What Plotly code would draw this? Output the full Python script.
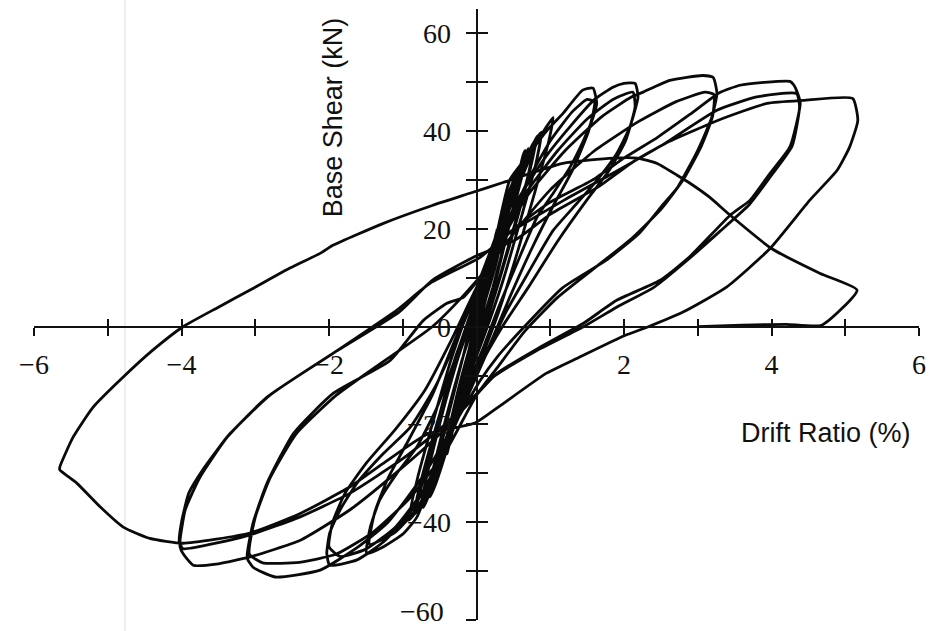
import plotly.graph_objects as go

# Cyclic lateral load test: drift ratio (%) vs base shear (kN), traced in load order.

# initial small-amplitude cycles (core of the response)
drift_small = [0, 0.1, 0.17, 0.12, 0, -0.1, -0.15, -0.08,
               0.05, 0.15, 0.25, 0.28, 0.2, 0.05, -0.1, -0.22, -0.27, -0.2, -0.05,
               0.1, 0.25, 0.38, 0.42, 0.35, 0.18, 0, -0.17, -0.32, -0.4, -0.32, -0.15,
               0, 0.2, 0.35, 0.5, 0.55, 0.45, 0.25, 0.05, -0.15, -0.3, -0.45, -0.52, -0.42, -0.25, -0.05,
               0.15, 0.35, 0.55, 0.63, 0.66, 0.58, 0.4, 0.2, 0, -0.2, -0.4, -0.55, -0.63, -0.55, -0.38, -0.18,
               0, 0.3, 0.55, 0.72, 0.78, 0.7, 0.5, 0.25, 0, -0.25, -0.5, -0.68, -0.75, -0.65, -0.45, -0.22,
               0.05, 0.3, 0.55, 0.75, 0.88, 0.8, 0.6, 0.35, 0.1, -0.15, -0.4, -0.62, -0.81, -0.7, -0.5, -0.28,
               0, 0.3, 0.6, 0.85, 1.04, 0.98, 0.8, 0.55, 0.3, 0.05, -0.25, -0.55, -0.78, -0.92, -0.8, -0.6,
               -0.35, -0.1, 0.25]
shear_small = [0, 7, 12, 8, 0, -7, -10, -5,
               3, 10, 18, 20, 13, 3, -7, -15, -18, -12, -2,
               7, 17, 25, 27, 21, 9, -2, -11, -21, -26, -20, -8,
               2, 12, 22, 30, 32, 25, 12, 2, -8, -18, -27, -30, -24, -13, -2,
               8, 20, 30, 35, 36.1, 30, 18, 6, -4, -14, -25, -32, -34.8, -29, -18, -6,
               5, 18, 29, 36, 37.5, 31, 20, 7, -4, -15, -27, -34, -36, -29, -17, -5,
               6, 19, 30, 37, 39.8, 33, 22, 9, -2, -12, -24, -33, -36.9, -30, -18, -6,
               5, 18, 30, 38.5, 42.8, 38, 28, 15, 3, -7, -18, -30, -37, -39.6, -31, -20,
               -7, 4, 18]

# repeated cycles at the same small drift
drift_repeat = [0.45, 0.6, 0.7, 0.62, 0.45, 0.22, 0.0, -0.25, -0.48, -0.66, -0.72, -0.62, -0.42, -0.2,
                0.05, 0.3, 0.52, 0.7, 0.82, 0.74, 0.55, 0.3, 0.05, -0.2, -0.45, -0.68, -0.85, -0.76,
                -0.56, -0.3, -0.05, 0.2]
shear_repeat = [28, 33, 36.5, 31, 21, 8, -3, -15, -27, -35, -37, -31, -19, -7,
                5, 18, 28, 35, 39, 33, 22, 9, -3, -14, -26, -35, -38.5, -32,
                -21, -8, 3, 14]

# two cycles to about +/-1.5 %
drift_lv1 = [0.45, 0.68, 0.96, 1.17, 1.44, 1.58, 1.63, 1.58, 1.45, 1.27, 1.04, 0.82, 0.55, 0.3, 0.1, -0.2,
             -0.5, -0.81, -0.99, -1.26, -1.49, -1.44, -1.31, -1.08, -0.81, -0.55, -0.3, -0.05, 0.2, 0.45,
             0.7, 1.0, 1.3, 1.5, 1.6, 1.52, 1.3, 1.05, 0.75, 0.45, 0.2, -0.1, -0.45, -0.8, -1.1, -1.45,
             -1.38, -1.2, -0.95, -0.6, -0.3, 0, 0.3]
shear_lv1 = [30, 34.7, 40.2, 43.6, 48.4, 48.8, 45.7, 42.8, 38.1, 32.7, 27.3, 22.4, 13, 4, -4, -15,
             -27, -39, -42.3, -45, -46.4, -41, -35.4, -30, -24.6, -17, -7, 4, 14, 22,
             30, 38, 44, 46.5, 46, 40, 32, 25, 16, 6, -3, -13, -26, -37, -42, -44.5,
             -38, -31, -24, -14, -3, 8, 18]

# two cycles to about +/-2 %
drift_lv2 = [0.6, 0.95, 1.3, 1.6, 1.85, 2.0, 2.15, 2.19, 2.08, 1.9, 1.63, 1.36, 1.04, 0.7, 0.4, 0.15,
             -0.2, -0.55, -0.9, -1.26, -1.62, -1.99, -2.03, -1.99, -1.85, -1.62, -1.26, -0.9, -0.55,
             -0.25, 0.05, 0.35, 0.7, 1.1, 1.5, 1.85, 2.12, 2.15, 2.02, 1.8, 1.5, 1.1, 0.7, 0.35, 0.05,
             -0.3, -0.7, -1.1, -1.5, -1.85, -2.0, -1.95, -1.78, -1.5, -1.1, -0.7, -0.35, 0, 0.35]
shear_lv2 = [27, 35, 41.5, 46.5, 49, 49.8, 49.8, 47, 40.9, 35.4, 29.9, 25.2, 19.7, 11, 3, -5,
             -17, -29, -38, -44, -47.7, -48.8, -46.4, -42.2, -37.5, -32, -25.9, -20.6, -12,
             -2, 9, 19, 28, 36, 42.5, 46.5, 48, 45, 38, 32, 26, 17.5, 8, 0, -8,
             -20, -33, -41, -45.5, -47, -45, -40, -34, -28, -21, -13, -3, 8, 18]

# two cycles to about +/-3 %
drift_lv3 = [0.7, 1.2, 1.7, 2.1, 2.26, 2.62, 3.07, 3.21, 3.26, 3.19, 3.0, 2.73, 2.53, 2.2, 1.75, 1.17,
             0.68, 0.28, 0.05, -0.3, -0.7, -1.2, -1.6, -2.12, -2.73, -3.03, -3.11, -3.03, -2.84, -2.48,
             -1.94, -1.17, -0.72, -0.4, -0.18, 0.2, 0.5, 1.0, 1.6, 2.2, 2.7, 3.1, 3.22, 3.2, 3.05, 2.8, 2.5,
             2.1, 1.6, 1.1, 0.65, 0.3, 0.0, -0.4, -0.9, -1.4, -1.9, -2.4, -2.9, -3.08, -3.0, -2.8,
             -2.45, -1.9, -1.25, -0.6, -0.2, 0.2]
shear_lv3 = [27, 36, 43, 47, 48, 50.4, 51.4, 51, 47.7, 42.8, 36.1, 28.6, 25.0, 19.0, 13.5, 8.0,
             0.5, -6.2, -11, -20, -30, -40, -45, -49.8, -51.2, -49.2, -47.3, -40.2, -32, -21.8,
             -13.6, -6.9, 1.3, 4.8, 6, 13, 19, 28, 36, 42, 46, 48, 47.5, 43, 37, 30, 24,
             18, 12, 6, -1, -8, -14, -25, -35, -42, -46.5, -48.2, -48.3, -46.5, -39, -31,
             -22, -14, -7, 0, 6, 13]

# two cycles to about +4.3 / -4 %
drift_lv4 = [0.43, 1.0, 1.57, 2.0, 2.46, 2.9, 3.3, 3.57, 3.9, 4.25, 4.3, 4.34, 4.39, 4.25, 3.98, 3.71,
             3.44, 2.89, 2.49, 1.9, 1.45, 0.86, 0.28, 0.02, -0.5, -1.1, -1.72, -2.39, -3.07, -3.5,
             -3.84, -3.98, -4.02, -4.02, -3.95, -3.75, -3.38, -2.84, -1.94, -1.08, -0.63, 0.05, 0.43,
             1.2, 1.8, 2.5, 3.26, 3.8, 4.34, 4.38, 4.28, 4.0, 3.7, 3.3, 2.85, 2.4, 1.9, 1.45, 0.8,
             0.25, -0.05, -0.5, -1.0, -1.72, -2.39, -3.07, -3.6, -3.98, -4.03, -4.0, -3.9, -3.7,
             -3.35, -2.8, -1.9, -1.05, -0.6, 0, 0.52]
shear_lv4 = [19, 25.5, 30, 34.5, 38.8, 43.5, 47.9, 49.4, 50, 50.2, 49.5, 48.3, 45.7, 36.8, 31.4, 25.9,
             22.8, 14.3, 9.5, 5.4, 0.7, -4.2, -9.5, -13.6, -22, -30, -37.5, -43.7, -47.1, -48.5,
             -48.8, -46.4, -45, -43.7, -37.5, -30.8, -22.6, -14.4, -5.4, 3.4, 8.9, 14.2, 19,
             26, 31, 37, 44.3, 47, 47.7, 45, 37, 31, 25, 19.5, 13.5, 8, 4, 0, -5,
             -10, -14.5, -21, -27, -34.1, -38.9, -42.6, -44.5, -45.4, -44, -40, -34, -29,
             -22, -14, -5, 3, 9.5, 14.5, 17.7]

# last cycle to about +5 % and back to the deepest negative drift
drift_lv5 = [1.0, 1.65, 2.1, 2.56, 3.27, 3.94, 4.43, 5.1, 5.17, 5.06, 4.89, 4.52, 3.98, 3.39, 2.8,
             2.33, 2.01, 1.4, 0.95, 0.29, -0.02, -0.67, -1.27, -1.72, -2.39, -3.07, -3.98, -4.43,
             -4.79, -5.1, -5.42, -5.65]
shear_lv5 = [23, 28.6, 33.5, 37.5, 42.2, 45.7, 46.3, 46.7, 42.2, 36.8, 32, 25.9, 16, 8.1, 3,
             0, -1.8, -6.2, -9.5, -16.5, -19.7, -22, -28, -32.8, -38.2, -42.2, -44.3, -43.3,
             -41, -36.9, -32, -29.3]

# degraded reloading after failure
drift_final = [-5.65, -5.47, -5.2, -4.79, -4.39, -3.98, -3.5, -3.07, -2.53, -2.12, -1.94, -1.27, -0.6,
               -0.09, 0.36, 1.17, 1.85, 2.18, 2.45, 2.72, 2.9, 3.16, 3.44, 4.0, 4.66, 5.16, 4.68, 4.2,
               3.6, 3.0]
shear_final = [-28.7, -22.6, -16.5, -10.3, -4.8, 0, 4, 7.5, 12, 15, 16.7, 21.1, 24.8,
               27.3, 29.5, 33.4, 34.5, 34.5, 33.4, 31, 29.3, 26.5, 22.8, 16, 10.9, 7.5, 0.3, 0.5,
               0.3, 0]

x_ticks = [-6, -5, -4, -3, -2, -1, 0, 1, 2, 3, 4, 5, 6]
x_labels = ["−6", "", "−4", "", "−2", "", "", "", "2", "", "4", "", "6"]
y_ticks = [-60, -50, -40, -30, -20, -10, 0, 10, 20, 30, 40, 50, 60]
y_labels = ["", "", "−40", "", "−20", "", "0", "", "20", "", "40", "", "60"]
y_bottom_label = "−60"   # set just above its tick so it stays on the page

drift = (drift_small + drift_repeat + drift_lv1 + drift_lv2 + drift_lv3 + drift_lv4
         + drift_lv5 + drift_final)
shear = (shear_small + shear_repeat + shear_lv1 + shear_lv2 + shear_lv3 + shear_lv4
         + shear_lv5 + shear_final)

X_RANGE = [-6, 6]
Y_RANGE = [-60, 65]
X_CROSS = 0.5                                   # paper position of drift = 0
Y_CROSS = (0 - Y_RANGE[0]) / (Y_RANGE[1] - Y_RANGE[0])   # paper position of shear = 0

fig = go.Figure()
fig.add_trace(go.Scatter(
    x=drift, y=shear, mode="lines",
    line=dict(color="#0a0a0a", width=2.8, shape="spline", smoothing=0.5),
    showlegend=False, hoverinfo="skip"))
# companion axes carry the inner half of each crossing tick
fig.add_trace(go.Scatter(x=[None], y=[None], xaxis="x2", yaxis="y2",
                         showlegend=False, hoverinfo="skip"))

serif = dict(family="Liberation Serif, Times New Roman, serif", size=28, color="#111")
sans = dict(family="Liberation Sans, Arial, sans-serif", size=27, color="#111")

common_x = dict(range=X_RANGE, anchor="free", position=Y_CROSS, showgrid=False, zeroline=False,
                tickvals=x_ticks, ticklen=8, tickwidth=2, tickcolor="#111", automargin=False)
common_y = dict(range=Y_RANGE, anchor="free", position=X_CROSS, showgrid=False, zeroline=False,
                tickvals=y_ticks, ticklen=10, tickwidth=2, tickcolor="#111", automargin=False)

fig.update_layout(
    width=930, height=631,
    margin=dict(l=34, r=11, t=9, b=11, autoexpand=False),
    paper_bgcolor="white", plot_bgcolor="white",
    xaxis=dict(**common_x, ticks="outside", ticktext=x_labels, tickfont=serif,
               showline=True, linecolor="#111", linewidth=2, ticklabelstandoff=5,
               ticklabeloverflow="allow"),
    xaxis2=dict(**common_x, overlaying="x", ticks="inside", showticklabels=False, showline=False),
    yaxis=dict(**common_y, ticks="outside", ticktext=y_labels, tickfont=serif,
               showline=True, linecolor="#111", linewidth=2, ticklabelstandoff=9,
               ticklabeloverflow="allow"),
    yaxis2=dict(**common_y, overlaying="y", ticks="inside", showticklabels=False, showline=False),
    annotations=[
        dict(text="Drift Ratio (%)", xref="paper", yref="paper", x=0.895, y=0.306,
             xanchor="center", yanchor="middle", showarrow=False, font=sans),
        dict(text="Base Shear (kN)", xref="paper", yref="paper", x=0.338, y=0.823,
             xanchor="center", yanchor="middle", showarrow=False, font=sans, textangle=-90),
        dict(text=y_bottom_label, xref="paper", yref="y", x=0.4655, y=Y_RANGE[0],
             xanchor="right", yanchor="bottom", yshift=-9, showarrow=False, font=serif),
    ],
    shapes=[dict(type="line", xref="paper", yref="paper", x0=0.1028, x1=0.1028, y0=-0.02, y1=1.02,
                 line=dict(color="#e9e9e9", width=1.5), layer="below")],
)

fig.write_html("out.html")
